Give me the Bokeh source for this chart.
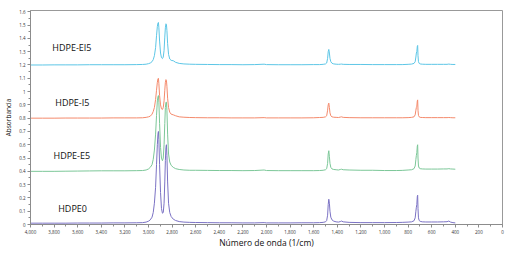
from bokeh.plotting import figure
from bokeh.models import Range1d, FixedTicker, NumeralTickFormatter, ColumnDataSource
from bokeh.core.properties import value
from bokeh.embed import file_html
from bokeh.resources import INLINE

# Wavenumbers (1/cm)
wn = [4000, 3900, 3800, 3700, 3600, 3500, 3400, 3300, 3200, 3100,
      3050, 3020, 3000, 2985, 2970, 2960, 2950, 2940, 2932, 2925,
      2920, 2916, 2912, 2906, 2898, 2890, 2882, 2875, 2868, 2862,
      2857, 2852, 2848, 2844, 2838, 2830, 2820, 2808, 2790, 2770,
      2740, 2700, 2650, 2600, 2500, 2400, 2300, 2200, 2100, 2020,
      2000, 1900, 1800, 1700, 1600, 1550, 1520, 1500, 1490, 1482,
      1477, 1472, 1467, 1462, 1455, 1445, 1430, 1410, 1390, 1375,
      1365, 1350, 1300, 1200, 1100, 1000, 900, 850, 800, 770,
      750, 740, 734, 730, 726, 722, 719, 716, 712, 706,
      698, 680, 650, 600, 550, 500, 470, 455, 440, 420,
      400]

hdpe0 = [0.010, 0.010, 0.010, 0.010, 0.011, 0.011, 0.011, 0.012, 0.012, 0.013,
         0.014, 0.018, 0.025, 0.035, 0.055, 0.09, 0.16, 0.28, 0.45, 0.60,
         0.68, 0.70, 0.64, 0.45, 0.24, 0.12, 0.085, 0.09, 0.16, 0.32,
         0.48, 0.58, 0.60, 0.52, 0.32, 0.16, 0.09, 0.06, 0.04, 0.03,
         0.022, 0.018, 0.016, 0.015, 0.014, 0.013, 0.013, 0.012, 0.012, 0.014,
         0.012, 0.012, 0.012, 0.013, 0.013, 0.014, 0.016, 0.02, 0.03, 0.07,
         0.15, 0.19, 0.16, 0.10, 0.055, 0.035, 0.025, 0.02, 0.018, 0.022,
         0.026, 0.02, 0.016, 0.014, 0.014, 0.014, 0.015, 0.016, 0.018, 0.02,
         0.028, 0.05, 0.10, 0.13, 0.15, 0.21, 0.22, 0.12, 0.05, 0.03,
         0.024, 0.02, 0.019, 0.019, 0.019, 0.02, 0.021, 0.026, 0.018, 0.014,
         0.012]

hdpe_e5 = [0.400, 0.400, 0.400, 0.401, 0.402, 0.403, 0.404, 0.404, 0.404, 0.405,
           0.406, 0.41, 0.418, 0.43, 0.45, 0.49, 0.56, 0.68, 0.82, 0.93,
           0.96, 0.97, 0.92, 0.76, 0.58, 0.50, 0.48, 0.50, 0.60, 0.76,
           0.88, 0.92, 0.92, 0.86, 0.68, 0.53, 0.47, 0.445, 0.43, 0.42,
           0.414, 0.41, 0.408, 0.408, 0.407, 0.406, 0.406, 0.405, 0.406, 0.41,
           0.406, 0.405, 0.405, 0.405, 0.405, 0.406, 0.408, 0.412, 0.42, 0.46,
           0.53, 0.555, 0.51, 0.46, 0.43, 0.418, 0.414, 0.412, 0.41, 0.414,
           0.416, 0.412, 0.41, 0.408, 0.408, 0.406, 0.406, 0.407, 0.41, 0.412,
           0.42, 0.44, 0.49, 0.52, 0.54, 0.59, 0.60, 0.50, 0.44, 0.425,
           0.42, 0.418, 0.417, 0.417, 0.417, 0.418, 0.418, 0.42, 0.418, 0.417,
           0.416]

hdpe_i5 = [0.800, 0.800, 0.800, 0.801, 0.801, 0.801, 0.801, 0.802, 0.802, 0.802,
           0.803, 0.806, 0.81, 0.815, 0.83, 0.85, 0.88, 0.94, 1.01, 1.07,
           1.095, 1.10, 1.06, 0.97, 0.90, 0.87, 0.865, 0.88, 0.93, 1.01,
           1.07, 1.09, 1.085, 1.04, 0.95, 0.88, 0.845, 0.83, 0.825, 0.818,
           0.81, 0.807, 0.805, 0.804, 0.803, 0.803, 0.802, 0.802, 0.802, 0.804,
           0.802, 0.802, 0.802, 0.802, 0.803, 0.805, 0.806, 0.81, 0.818, 0.86,
           0.90, 0.913, 0.88, 0.84, 0.818, 0.81, 0.807, 0.806, 0.805, 0.808,
           0.81, 0.806, 0.804, 0.803, 0.803, 0.803, 0.803, 0.803, 0.804, 0.806,
           0.81, 0.825, 0.86, 0.88, 0.89, 0.93, 0.9375, 0.86, 0.82, 0.81,
           0.806, 0.805, 0.804, 0.804, 0.804, 0.804, 0.804, 0.805, 0.804, 0.803,
           0.803]

hdpe_ei5 = [1.200, 1.200, 1.201, 1.201, 1.201, 1.202, 1.202, 1.202, 1.202, 1.203,
            1.204, 1.206, 1.21, 1.215, 1.225, 1.24, 1.27, 1.33, 1.42, 1.49,
            1.515, 1.52, 1.48, 1.38, 1.29, 1.255, 1.248, 1.26, 1.31, 1.41,
            1.48, 1.51, 1.505, 1.46, 1.36, 1.28, 1.245, 1.235, 1.232, 1.22,
            1.212, 1.208, 1.206, 1.205, 1.204, 1.203, 1.203, 1.202, 1.203, 1.206,
            1.203, 1.202, 1.202, 1.202, 1.203, 1.203, 1.205, 1.208, 1.215, 1.25,
            1.30, 1.317, 1.29, 1.25, 1.225, 1.213, 1.208, 1.206, 1.205, 1.206,
            1.207, 1.205, 1.204, 1.204, 1.203, 1.203, 1.203, 1.203, 1.205, 1.207,
            1.212, 1.225, 1.26, 1.29, 1.30, 1.34, 1.347, 1.27, 1.225, 1.212,
            1.208, 1.206, 1.205, 1.205, 1.205, 1.205, 1.205, 1.207, 1.205, 1.204,
            1.204]

series_names = ["HDPE0", "HDPE-E5", "HDPE-I5", "HDPE-EI5"]
series_colors = ["#7b72c4", "#7cc798", "#f48a6c", "#5dc6e6"]
label_x = [3765, 3805, 3790, 3815]
label_y = [0.12, 0.52, 0.915, 1.33]

x_ticks = list(range(0, 4001, 200))
x_minor = list(range(0, 4001, 100))
y_ticks = [i / 10 for i in range(0, 17)]
y_minor = [i / 20 for i in range(0, 33)]

p = figure(width=512, height=250, output_backend="svg", toolbar_location=None,
           x_range=Range1d(4000, 0), y_range=Range1d(0, 1.61),
           min_border_left=30, min_border_right=10, min_border_top=10,
           min_border_bottom=24)

for vals, col in zip([hdpe0, hdpe_e5, hdpe_i5, hdpe_ei5], series_colors):
    p.line(wn, vals, line_color=col, line_width=1)

src = ColumnDataSource(dict(x=label_x, y=label_y, t=series_names))
p.text(x="x", y="y", text="t", source=src, text_font=value("Open Sans"),
       text_font_size="9px", text_color="#111111", text_align="left",
       text_baseline="middle")

p.xgrid.visible = False
p.ygrid.visible = False
p.outline_line_color = "#999999"
p.outline_line_width = 1

p.xaxis.ticker = FixedTicker(ticks=x_ticks, minor_ticks=x_minor)
p.yaxis.ticker = FixedTicker(ticks=y_ticks, minor_ticks=y_minor)
p.xaxis.formatter = NumeralTickFormatter(format="0,0")
p.yaxis.formatter = NumeralTickFormatter(format="0.[0]")

for ax in (p.xaxis, p.yaxis):
    ax.axis_line_color = "#8c8c8c"
    ax.major_tick_line_color = "#8c8c8c"
    ax.minor_tick_line_color = "#8c8c8c"
    ax.major_tick_out = 3
    ax.major_tick_in = 0
    ax.minor_tick_out = 2
    ax.minor_tick_in = 0
    ax.major_label_text_font_size = "4.5px"
    ax.major_label_text_color = "#333333"
    ax.major_label_text_font = "Open Sans"
    ax.axis_label_text_font = "Open Sans"
    ax.axis_label_text_font_style = "normal"
    ax.axis_label_text_color = "#111111"
    ax.major_label_standoff = 2

p.xaxis.axis_label = "Número de onda (1/cm)"
p.xaxis.axis_label_text_font_size = "8.5px"
p.xaxis.axis_label_standoff = 0
p.yaxis.axis_label = "Absorbancia"
p.yaxis.axis_label_text_font_size = "6.5px"
p.yaxis.axis_label_standoff = 3

open("out.html", "w").write(file_html(p, INLINE))
